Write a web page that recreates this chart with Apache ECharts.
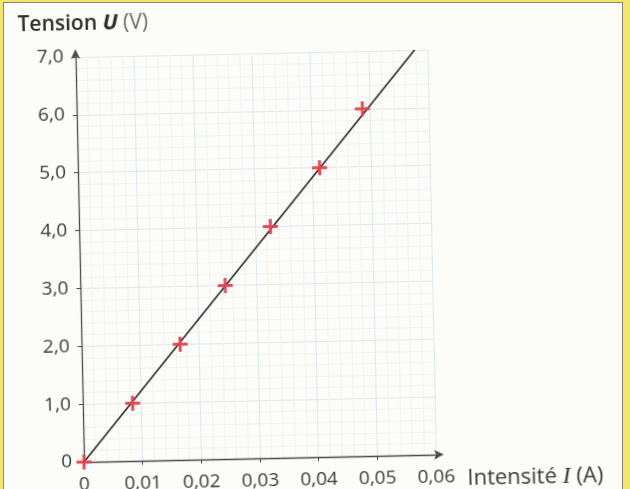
<!DOCTYPE html>
<html>
<head>
<meta charset="utf-8">
<script src="https://cdn.jsdelivr.net/npm/echarts@6/dist/echarts.min.js"></script>
<style>
html,body{margin:0;padding:0;width:630px;height:489px;overflow:hidden;background:#f3e46c;}
#paper{position:absolute;left:3px;top:2px;width:618px;height:520px;background:#fcfcf8;border:1px solid #8c857c;border-bottom:none;}
#main{position:absolute;left:0;top:0;width:640px;height:520px;transform-origin:84px 462px;transform:rotate(-1.2deg);}
</style>
</head>
<body>
<div id="paper"></div>
<div id="main"></div>
<script>
var intensite=[0,0.0085,0.0168,0.0247,0.0326,0.0412,0.0487]
var tension=[0,1.0,2.0,3.0,4.0,5.0,6.0]
// droite moyenne
var droiteI=[0,0.0578]
var droiteU=[0,7.0]

var pts=intensite.map(function(v,i){return [v,tension[i]]})
var droite=droiteI.map(function(v,i){return [v,droiteU[i]]})

function virgule(v,dec){
	if(v===0) return '0'
	return v.toFixed(dec).replace('.',',')
}

var chart=echarts.init(document.getElementById('main'))
var txt='#3a3a3a'
var option={
	animation:false,
	grid:{left:84,top:57,width:352,height:405},
	xAxis:{
		type:'value',min:0,max:0.06,interval:0.01,
		name:'{a|Intensité }{b|I}{a| (A)}',
		nameLocation:'end',nameGap:31,
		nameTextStyle:{padding:[50,0,0,0],rich:{
			a:{fontFamily:'Open Sans',fontSize:22,color:txt},
			b:{fontFamily:'Liberation Serif',fontStyle:'italic',fontSize:24,color:txt}
		}},
		axisLine:{lineStyle:{color:'#4a4a4a',width:1.3},symbol:['none','arrow'],symbolSize:[7,10],symbolOffset:[0,8]},
		axisTick:{show:true,length:4,lineStyle:{color:'#4a4a4a'}},
		axisLabel:{fontFamily:'Open Sans',fontSize:19,color:txt,margin:13,formatter:function(v){return virgule(v,2)}},
		splitLine:{show:true,lineStyle:{color:'#dfe8ed',width:1}},
		minorTick:{show:false,splitNumber:5},
		minorSplitLine:{show:true,lineStyle:{color:'#f1f3f3',width:1}}
	},
	yAxis:{
		type:'value',min:0,max:7,interval:1,
		name:'{a|Tension }{b|U}{c| (V)}',
		nameLocation:'end',nameGap:22,
		nameTextStyle:{align:'center',padding:[0,0,0,16],rich:{
			a:{fontFamily:'Open Sans',fontWeight:600,fontSize:21,color:'#2e2e2e'},
			b:{fontFamily:'Open Sans',fontWeight:700,fontStyle:'italic',fontSize:22,color:'#2e2e2e'},
			c:{fontFamily:'Open Sans',fontSize:21,color:'#6a6a6a'}
		}},
		axisLine:{lineStyle:{color:'#4a4a4a',width:1.3},symbol:['none','arrow'],symbolSize:[7,10],symbolOffset:[0,8]},
		axisTick:{show:true,length:4,lineStyle:{color:'#4a4a4a'}},
		axisLabel:{fontFamily:'Open Sans',fontSize:19,color:txt,margin:12,formatter:function(v){return virgule(v,1)}},
		splitLine:{show:true,lineStyle:{color:'#dfe8ed',width:1}},
		minorTick:{show:false,splitNumber:5},
		minorSplitLine:{show:true,lineStyle:{color:'#f1f3f3',width:1}}
	},
	series:[
		{
			name:'droite',type:'line',data:droite,clip:false,
			symbol:'none',
			lineStyle:{color:'#262626',width:1.6},
			z:2
		},
		{
			name:'mesures',type:'scatter',data:pts,clip:false,
			symbol:'path://M6,0H9V6H15V9H9V15H6V9H0V6H6Z',
			symbolSize:15,
			itemStyle:{color:'#e3424e',opacity:0.95},
			z:3
		}
	]
}
chart.setOption(option)
</script>
</body>
</html>
